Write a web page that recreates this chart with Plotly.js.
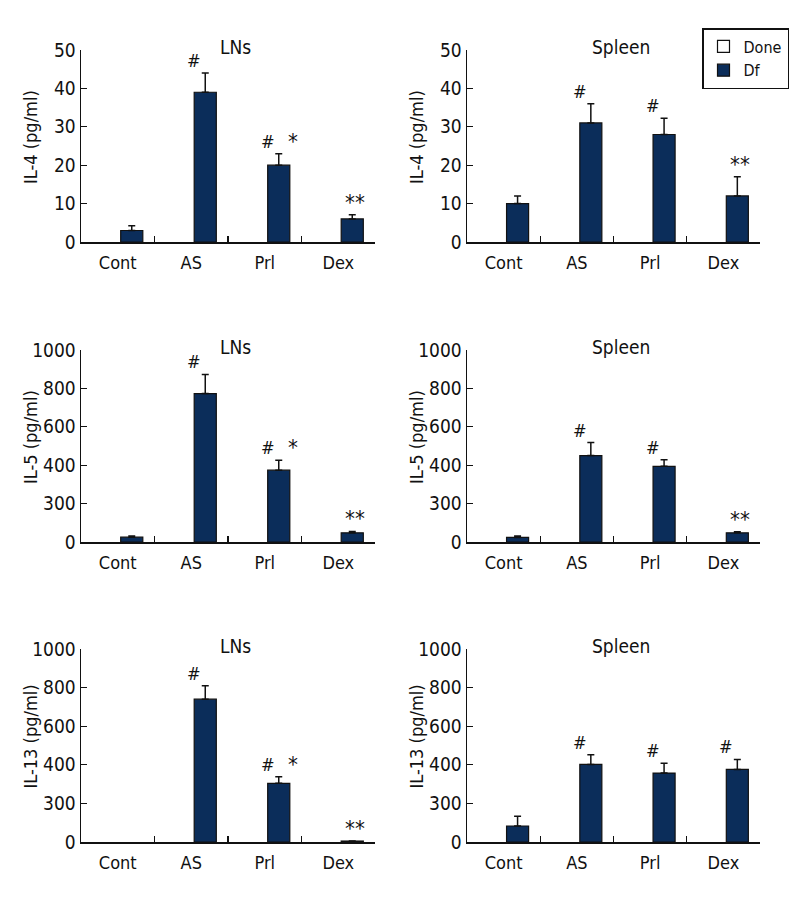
<!DOCTYPE html>
<html><head><meta charset="utf-8">
<script src="https://cdn.plot.ly/plotly-3.0.1.min.js"></script>
<style>body{margin:0;background:#fff}#chart{width:800px;height:900px}</style>
</head><body><div id="chart"></div>
<script>
// ---- data ----
const categories = ["Cont", "AS", "Prl", "Dex"];
const seriesNames = ["Done", "Df"];
const doneValues = [null, null, null, null];

const il4LNs = [3, 39, 20, 6];
const il4LNsErr = [1.2, 5, 3, 1.1];
const il4LNsHash = ["", "#", "#", ""];
const il4LNsStar = ["", "", "*", "**"];

const il4Spleen = [10, 31, 28, 12];
const il4SpleenErr = [2, 5, 4.2, 5];
const il4SpleenHash = ["", "#", "#", ""];
const il4SpleenStar = ["", "", "", "**"];

const il5LNs = [25, 773, 374, 48];
const il5LNsErr = [6, 100, 52, 7];
const il5LNsHash = ["", "#", "#", ""];
const il5LNsStar = ["", "", "*", "**"];

const il5Spleen = [24, 450, 394, 48];
const il5SpleenErr = [7, 68, 34, 5];
const il5SpleenHash = ["", "#", "#", ""];
const il5SpleenStar = ["", "", "", "**"];

const il13LNs = [null, 740, 304, 5];
const il13LNsErr = [0, 70, 34, 0];
const il13LNsHash = ["", "#", "#", ""];
const il13LNsStar = ["", "", "*", "**"];

const il13Spleen = [83, 402, 357, 376];
const il13SpleenErr = [51, 50, 51, 52];
const il13SpleenHash = ["", "#", "#", "#"];
const il13SpleenStar = ["", "", "", ""];

const yTickVals50 = [0, 10, 20, 30, 40, 50];
const yTickText50 = ["0", "10", "20", "30", "40", "50"];
const yTickVals1000 = [0, 200, 400, 600, 800, 1000];
const yTickText1000 = ["0", "300", "400", "600", "800", "1000"];

const panelTitles = ["LNs", "Spleen", "LNs", "Spleen", "LNs", "Spleen"];
const yTitles = ["IL-4 (pg/ml)", "IL-4 (pg/ml)", "IL-5 (pg/ml)", "IL-5 (pg/ml)", "IL-13 (pg/ml)", "IL-13 (pg/ml)"];

// ---- styling / layout ----
const FONT = "'Liberation Sans Narrow', 'DejaVu Sans Condensed', 'Roboto Condensed', 'Arial Narrow', sans-serif";
const NAVY = "#0b2d5a";
const W = 800, H = 900;
const colX = [[81, 375], [467, 760]];
const yTitleX = [30, 416];
const rowY = [[50, 242], [350, 542], [649, 842]];

const panels = [
  {v: il4LNs, e: il4LNsErr, h: il4LNsHash, s: il4LNsStar, tv: yTickVals50, tt: yTickText50, max: 50},
  {v: il4Spleen, e: il4SpleenErr, h: il4SpleenHash, s: il4SpleenStar, tv: yTickVals50, tt: yTickText50, max: 50},
  {v: il5LNs, e: il5LNsErr, h: il5LNsHash, s: il5LNsStar, tv: yTickVals1000, tt: yTickText1000, max: 1000},
  {v: il5Spleen, e: il5SpleenErr, h: il5SpleenHash, s: il5SpleenStar, tv: yTickVals1000, tt: yTickText1000, max: 1000},
  {v: il13LNs, e: il13LNsErr, h: il13LNsHash, s: il13LNsStar, tv: yTickVals1000, tt: yTickText1000, max: 1000},
  {v: il13Spleen, e: il13SpleenErr, h: il13SpleenHash, s: il13SpleenStar, tv: yTickVals1000, tt: yTickText1000, max: 1000}
];

const data = [];
const layout = {
  width: W, height: H,
  margin: {l: 0, r: 0, t: 0, b: 0},
  paper_bgcolor: "#fff", plot_bgcolor: "#fff",
  font: {family: FONT, size: 17, color: "#111"},
  barmode: "group", bargap: 0.238, bargroupgap: 0.21,
  showlegend: true,
  legend: {x: 702 / W, y: 1 - 28 / H, xanchor: "left", yanchor: "top",
           bordercolor: "#111", borderwidth: 1.5, bgcolor: "#fff",
           font: {family: FONT, size: 16, color: "#111"}, tracegroupgap: 0, itemwidth: 30},
  annotations: []
};

panels.forEach((p, i) => {
  const k = i + 1;
  const suf = k === 1 ? "" : String(k);
  const xa = "x" + suf, ya = "y" + suf;
  const col = i % 2, row = Math.floor(i / 2);
  const xd = [colX[col][0] / W, colX[col][1] / W];
  const yd = [1 - rowY[row][1] / H, 1 - rowY[row][0] / H];

  data.push({
    type: "bar", name: seriesNames[0], x: categories, y: doneValues, xaxis: xa, yaxis: ya,
    marker: {color: "#fff", line: {color: "#111", width: 1.2}},
    showlegend: i === 0, legendgroup: "done"
  });
  data.push({
    type: "bar", name: seriesNames[1], x: categories, y: p.v, xaxis: xa, yaxis: ya,
    marker: {color: NAVY, line: {color: "#111", width: 1.2}},
    error_y: {type: "data", array: p.e, arrayminus: p.e.map(() => 0), symmetric: false,
              color: "#111", thickness: 1.5, width: 3.5},
    showlegend: i === 0, legendgroup: "df"
  });

  layout["xaxis" + suf] = {
    domain: xd, anchor: ya, type: "category", range: [-0.5, 3.5],
    showline: true, linecolor: "#111", linewidth: 1.5,
    ticks: "inside", ticklen: 6, tickwidth: 1.2, tickcolor: "#111", tickson: "boundaries",
    ticklabelstandoff: 4,
    showgrid: false, zeroline: false, fixedrange: true,
    tickfont: {family: FONT, size: 18, color: "#111"}
  };
  layout["yaxis" + suf] = {
    domain: yd, anchor: xa, range: [0, p.max],
    tickmode: "array", tickvals: p.tv, ticktext: p.tt,
    showline: true, linecolor: "#111", linewidth: 1.5,
    ticks: "inside", ticklen: 6, tickwidth: 1.2, tickcolor: "#111",
    showgrid: false, zeroline: false, fixedrange: true,
    tickfont: {family: FONT, size: 19, color: "#111"}
  };

  // y-axis title
  layout.annotations.push({
    xref: "paper", yref: "paper", x: yTitleX[col] / W, y: (yd[0] + yd[1]) / 2, yshift: 9,
    text: yTitles[i], textangle: -90, showarrow: false, xanchor: "center", yanchor: "middle",
    font: {family: FONT, size: 18, color: "#111"}
  });

  // panel title
  layout.annotations.push({
    xref: "paper", yref: "paper", x: (xd[0] + xd[1]) / 2, y: 1 - (rowY[row][0] - 3) / H,
    xshift: 7, text: panelTitles[i], showarrow: false, xanchor: "center", yanchor: "middle",
    font: {family: FONT, size: 19, color: "#111"}
  });

  // significance marks
  categories.forEach((c, j) => {
    const top = (p.v[j] || 0) + p.e[j];
    if (p.h[j]) {
      layout.annotations.push({
        xref: xa, yref: ya, x: c, y: top, text: p.h[j], showarrow: false,
        xanchor: "center", yanchor: "bottom", xshift: 3, yshift: 0,
        font: {family: FONT, size: 18, color: "#111"}
      });
    }
    if (p.s[j]) {
      layout.annotations.push({
        xref: xa, yref: ya, x: c, y: top, text: p.s[j], showarrow: false,
        xanchor: "center", yanchor: "bottom", xshift: p.h[j] ? 28 : 17, yshift: -2,
        font: {family: FONT, size: 22, color: "#111"}
      });
    }
  });
});

Plotly.newPlot("chart", data, layout, {staticPlot: true, displayModeBar: false});
</script>
</body></html>
